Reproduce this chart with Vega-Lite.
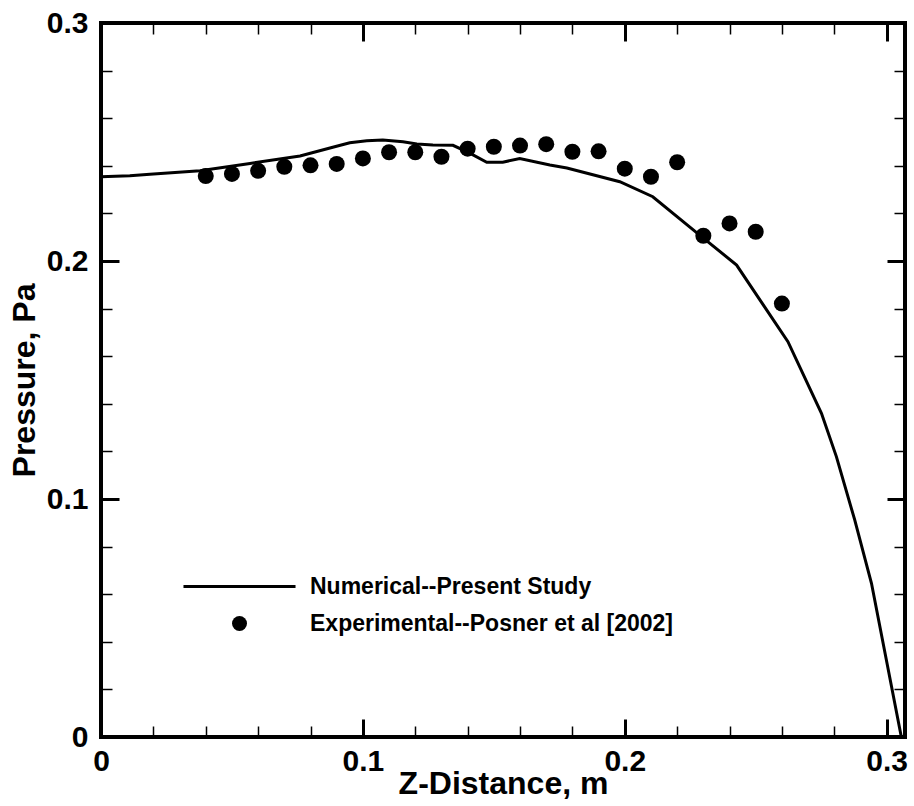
{
  "$schema": "https://vega.github.io/schema/vega-lite/v6.json",
  "width": 804,
  "height": 714,
  "autosize": "none",
  "padding": {"left": 101, "top": 23, "right": 9, "bottom": 69},
  "background": "white",
  "config": {
    "view": {"stroke": "black", "strokeWidth": 4},
    "font": "Liberation Sans",
    "axis": {"grid": false, "domain": false, "tickColor": "black", "labelColor": "black", "titleColor": "black", "labelFont": "Liberation Sans", "titleFont": "Liberation Sans", "labelFontWeight": "bold", "titleFontWeight": "bold"}
  },
  "datasets": {
    "num": [
      {"z": 0.0, "p": 0.2354},
      {"z": 0.011, "p": 0.2358},
      {"z": 0.0187, "p": 0.2364},
      {"z": 0.0378, "p": 0.2379},
      {"z": 0.0569, "p": 0.241},
      {"z": 0.076, "p": 0.2441},
      {"z": 0.0885, "p": 0.2478},
      {"z": 0.095, "p": 0.2497},
      {"z": 0.1015, "p": 0.2505},
      {"z": 0.1076, "p": 0.2508},
      {"z": 0.1153, "p": 0.2501},
      {"z": 0.1206, "p": 0.2492},
      {"z": 0.1267, "p": 0.2487},
      {"z": 0.1344, "p": 0.2486},
      {"z": 0.1408, "p": 0.2453},
      {"z": 0.1473, "p": 0.2415},
      {"z": 0.1534, "p": 0.2415},
      {"z": 0.1599, "p": 0.2431},
      {"z": 0.1714, "p": 0.2403},
      {"z": 0.1779, "p": 0.2391},
      {"z": 0.1981, "p": 0.2333},
      {"z": 0.2107, "p": 0.227},
      {"z": 0.2286, "p": 0.2109},
      {"z": 0.2427, "p": 0.1983},
      {"z": 0.2623, "p": 0.1661},
      {"z": 0.2751, "p": 0.136},
      {"z": 0.2808, "p": 0.1178},
      {"z": 0.2878, "p": 0.0912},
      {"z": 0.2942, "p": 0.0646},
      {"z": 0.3056, "p": 0.0}
    ],
    "exp": [
      {"z": 0.04, "p": 0.2357, "series": "Experimental--Posner et al [2002]"},
      {"z": 0.05, "p": 0.2366, "series": "Experimental--Posner et al [2002]"},
      {"z": 0.06, "p": 0.2379, "series": "Experimental--Posner et al [2002]"},
      {"z": 0.07, "p": 0.2396, "series": "Experimental--Posner et al [2002]"},
      {"z": 0.08, "p": 0.2402, "series": "Experimental--Posner et al [2002]"},
      {"z": 0.09, "p": 0.2408, "series": "Experimental--Posner et al [2002]"},
      {"z": 0.1, "p": 0.2431, "series": "Experimental--Posner et al [2002]"},
      {"z": 0.11, "p": 0.2457, "series": "Experimental--Posner et al [2002]"},
      {"z": 0.12, "p": 0.2457, "series": "Experimental--Posner et al [2002]"},
      {"z": 0.13, "p": 0.2438, "series": "Experimental--Posner et al [2002]"},
      {"z": 0.14, "p": 0.2472, "series": "Experimental--Posner et al [2002]"},
      {"z": 0.15, "p": 0.248, "series": "Experimental--Posner et al [2002]"},
      {"z": 0.16, "p": 0.2485, "series": "Experimental--Posner et al [2002]"},
      {"z": 0.17, "p": 0.2491, "series": "Experimental--Posner et al [2002]"},
      {"z": 0.18, "p": 0.2459, "series": "Experimental--Posner et al [2002]"},
      {"z": 0.19, "p": 0.2461, "series": "Experimental--Posner et al [2002]"},
      {"z": 0.2, "p": 0.2388, "series": "Experimental--Posner et al [2002]"},
      {"z": 0.21, "p": 0.2354, "series": "Experimental--Posner et al [2002]"},
      {"z": 0.22, "p": 0.2415, "series": "Experimental--Posner et al [2002]"},
      {"z": 0.23, "p": 0.2106, "series": "Experimental--Posner et al [2002]"},
      {"z": 0.24, "p": 0.2158, "series": "Experimental--Posner et al [2002]"},
      {"z": 0.25, "p": 0.2123, "series": "Experimental--Posner et al [2002]"},
      {"z": 0.26, "p": 0.1821, "series": "Experimental--Posner et al [2002]"}
    ]
  },
  "layer": [
    {
      "data": {"name": "num"},
      "mark": {"type": "line", "color": "black", "strokeWidth": 3, "clip": true},
      "encoding": {
        "x": {"field": "z", "type": "quantitative", "scale": {"domain": [0, 0.307], "nice": false, "zero": false},
          "axis": {"orient": "bottom", "ticks": false, "values": [0, 0.1, 0.2, 0.3], "format": "~g", "labelFontSize": 30, "labelPadding": 9, "labelFlush": false, "title": "Z-Distance, m", "titleFontSize": 32, "titleBaseline": "alphabetic", "titleX": 402, "titleY": 56}},
        "y": {"field": "p", "type": "quantitative", "scale": {"domain": [0, 0.3], "nice": false, "zero": false},
          "axis": {"orient": "left", "ticks": false, "values": [0, 0.1, 0.2, 0.3], "format": "~g", "labelFontSize": 30, "labelPadding": 13, "labelFlush": false, "title": "Pressure, Pa", "titleFontSize": 32, "titleBaseline": "alphabetic", "titleAngle": -90, "titleX": -67, "titleY": 357}}
      }
    },
    {
      "data": {"name": "exp"},
      "mark": {"type": "point", "filled": true, "color": "black", "size": 256, "opacity": 1},
      "encoding": {
        "x": {"field": "z", "type": "quantitative", "scale": {"domain": [0, 0.307], "nice": false, "zero": false},
          "axis": {"orient": "bottom", "labels": false, "title": null, "values": [0, 0.1, 0.2, 0.3], "tickSize": -18, "tickWidth": 3}},
        "y": {"field": "p", "type": "quantitative", "scale": {"domain": [0, 0.3], "nice": false, "zero": false},
          "axis": {"orient": "left", "labels": false, "title": null, "values": [0, 0.1, 0.2, 0.3], "tickSize": -18, "tickWidth": 3}},
        "shape": {"field": "series", "type": "nominal",
          "scale": {"domain": ["Numerical--Present Study", "Experimental--Posner et al [2002]"], "range": ["M-7.47,-0.2L7.47,-0.2L7.47,0.2L-7.47,0.2Z", "circle"]},
          "legend": {"orient": "none", "legendX": 127, "legendY": 552, "title": null, "padding": 0, "labelFont": "Liberation Sans", "labelFontSize": 23, "labelFontWeight": "bold", "labelColor": "black", "labelLimit": 600, "symbolSize": 225, "labelOffset": 59, "rowPadding": 13,
            "encode": {"symbols": {"update": {"fill": {"value": "black"}, "stroke": {"value": "black"}, "strokeWidth": {"value": 0}, "opacity": {"value": 1}}}}}}
      }
    },
    {
      "data": {"name": "exp"},
      "mark": {"type": "point", "opacity": 0},
      "encoding": {
        "x": {"field": "z", "type": "quantitative", "scale": {"domain": [0, 0.307], "nice": false, "zero": false},
          "axis": {"orient": "bottom", "labels": false, "title": null, "values": [0.02, 0.04, 0.06, 0.08, 0.12, 0.14, 0.16, 0.18, 0.22, 0.24, 0.26, 0.28], "tickSize": -11, "tickWidth": 1.5}},
        "y": {"field": "p", "type": "quantitative", "scale": {"domain": [0, 0.3], "nice": false, "zero": false},
          "axis": {"orient": "left", "labels": false, "title": null, "values": [0.02, 0.04, 0.06, 0.08, 0.12, 0.14, 0.16, 0.18, 0.22, 0.24, 0.26, 0.28], "tickSize": -11, "tickWidth": 1.5}}
      }
    },
    {
      "data": {"name": "exp"},
      "mark": {"type": "point", "opacity": 0},
      "encoding": {
        "x": {"field": "z", "type": "quantitative", "scale": {"domain": [0, 0.307], "nice": false, "zero": false},
          "axis": {"orient": "top", "labels": false, "title": null, "values": [0, 0.1, 0.2, 0.3], "tickSize": -18, "tickWidth": 3}},
        "y": {"field": "p", "type": "quantitative", "scale": {"domain": [0, 0.3], "nice": false, "zero": false},
          "axis": {"orient": "right", "labels": false, "title": null, "values": [0, 0.1, 0.2, 0.3], "tickSize": -18, "tickWidth": 3}}
      }
    },
    {
      "data": {"name": "exp"},
      "mark": {"type": "point", "opacity": 0},
      "encoding": {
        "x": {"field": "z", "type": "quantitative", "scale": {"domain": [0, 0.307], "nice": false, "zero": false},
          "axis": {"orient": "top", "labels": false, "title": null, "values": [0.02, 0.04, 0.06, 0.08, 0.12, 0.14, 0.16, 0.18, 0.22, 0.24, 0.26, 0.28], "tickSize": -11, "tickWidth": 1.5}},
        "y": {"field": "p", "type": "quantitative", "scale": {"domain": [0, 0.3], "nice": false, "zero": false},
          "axis": {"orient": "right", "labels": false, "title": null, "values": [0.02, 0.04, 0.06, 0.08, 0.12, 0.14, 0.16, 0.18, 0.22, 0.24, 0.26, 0.28], "tickSize": -11, "tickWidth": 1.5}}
      }
    }
  ],
  "resolve": {"axis": {"x": "independent", "y": "independent"}}
}
